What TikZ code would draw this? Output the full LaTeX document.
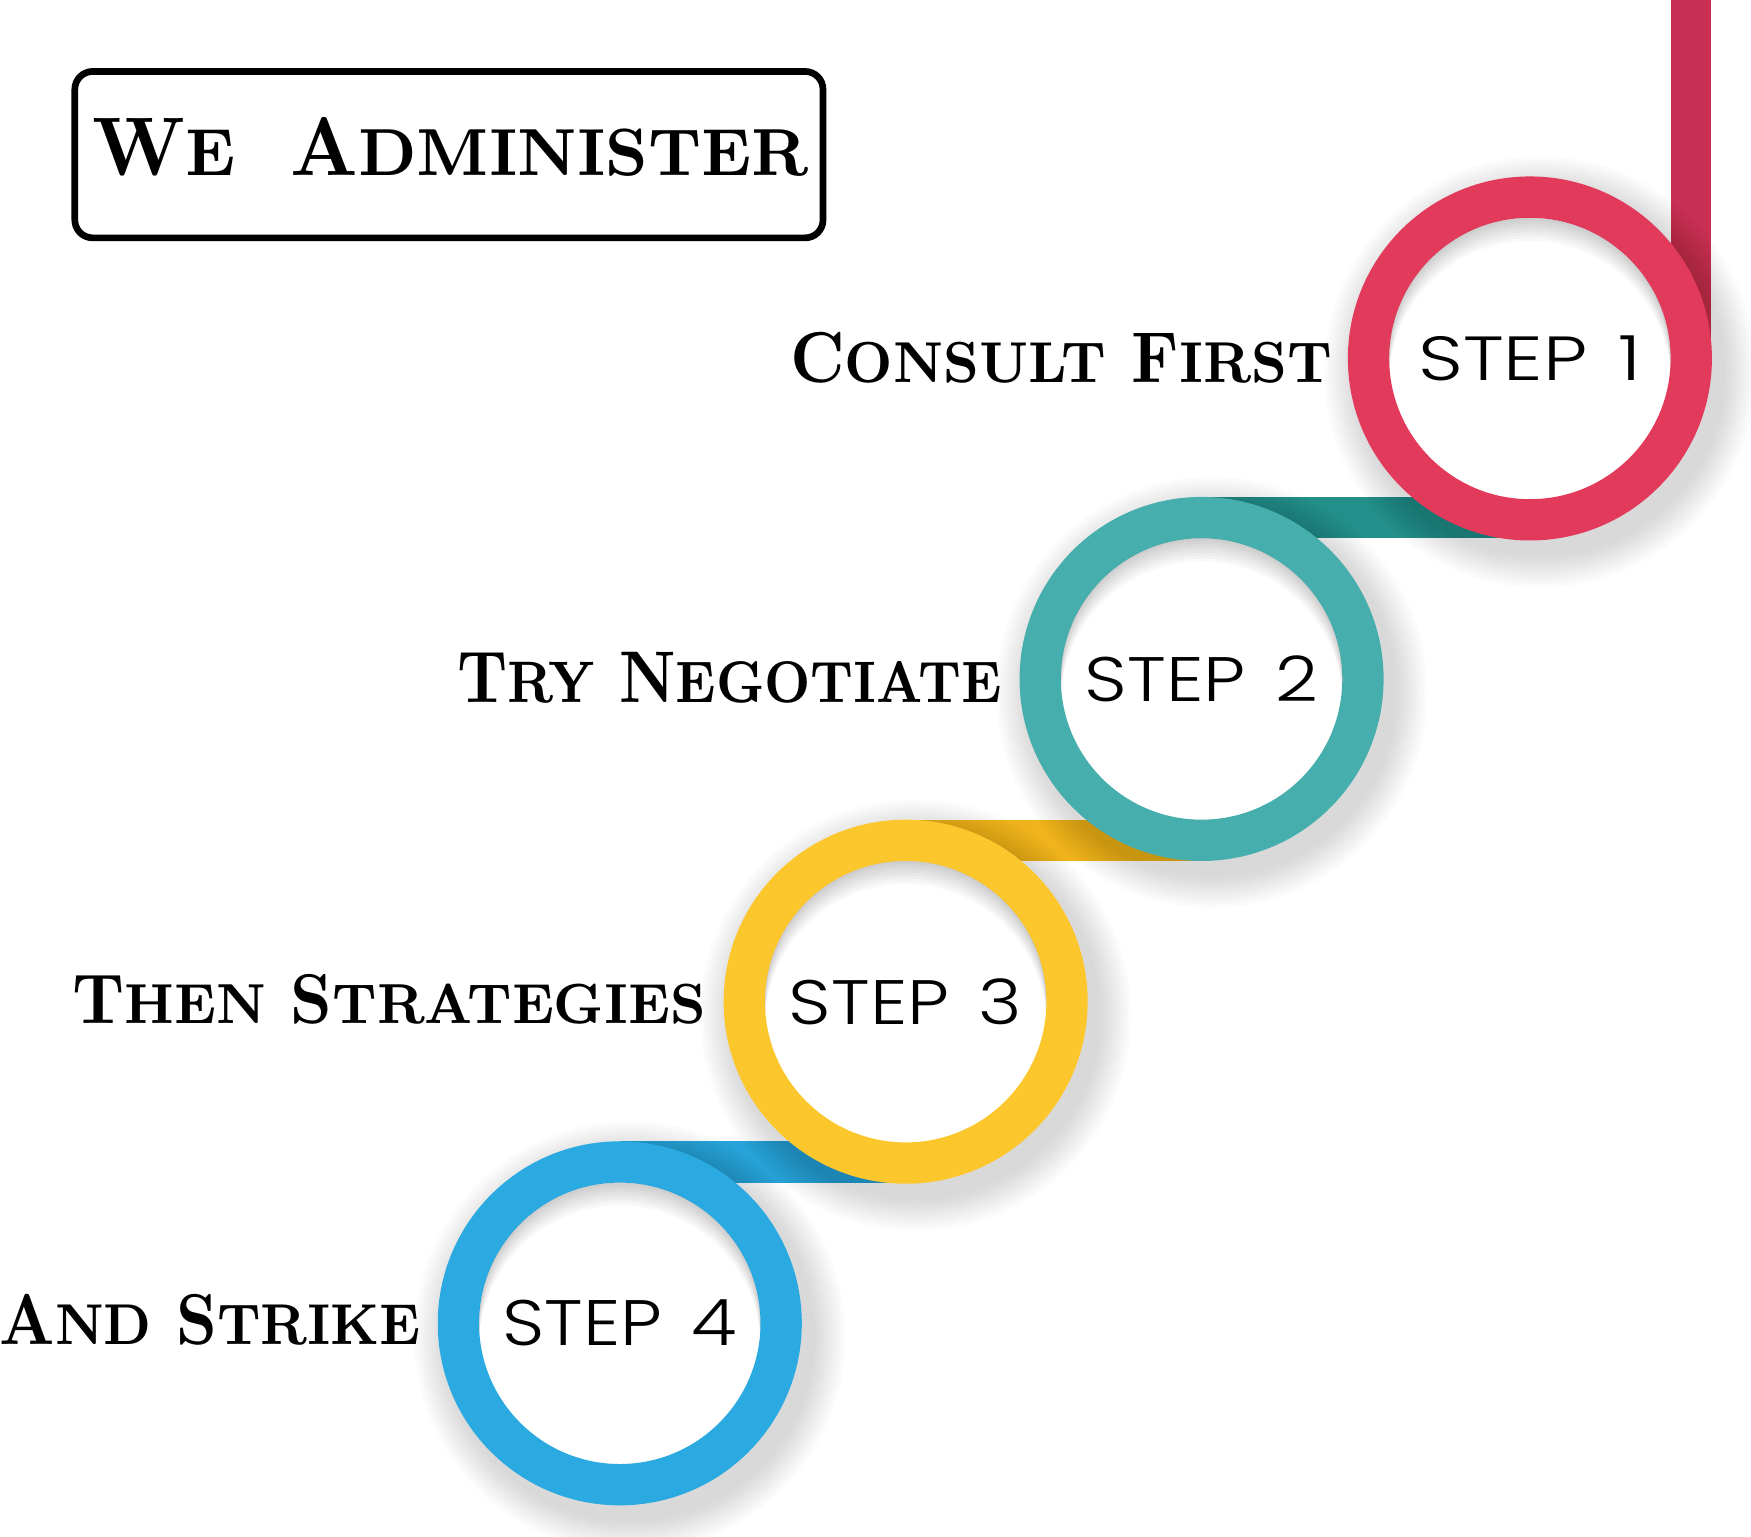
\documentclass[tikz,border=0pt]{standalone}
\usepackage{graphicx}
\usepackage{fontspec}
\setmainfont{Latin Modern Roman}
\newfontfamily\stepfont{Poppins}[UprightFont=* Light]
\usetikzlibrary{backgrounds}
\definecolor{ringred}{HTML}{E23A5A}
\definecolor{barred}{HTML}{C92F52}
\definecolor{ringteal}{HTML}{46AEAD}
\definecolor{bandteal}{HTML}{238F8A}
\definecolor{ringyellow}{HTML}{FCC72D}
\definecolor{bandyellow}{HTML}{F0B31B}
\definecolor{ringblue}{HTML}{2BAAE2}
\definecolor{bandblue}{HTML}{27A3D9}
\newcommand\smc{\fontsize{8}{9.6}\selectfont}
\begin{document}
\begin{tikzpicture}[x=1pt,y=-1pt,
  ring/.style={circle, draw=#1, line width=37pt, fill=white, minimum size=289pt,
    inner sep=0pt, outer sep=0pt, font=\stepfont\fontsize{10}{12}\selectfont},
  band/.style={draw=#1, line width=37pt, line cap=butt},
  lab/.style={anchor=south east, inner sep=0pt, font=\bfseries\fontsize{10}{12}\selectfont}]
\useasboundingbox (0,0) rectangle (1568,1375.5);
% title
\node[draw, line width=6pt, rounded corners=16pt, minimum width=670pt, minimum height=149pt,
  inner sep=0pt, outer sep=0pt] (tbox) at (402,138.5) {};
\node[lab, anchor=south west] (title) at (83,158)
  {\resizebox{641pt}{52pt}{W{\smc E}\hspace{0.7em}A{\smc DMINISTER}}};
% step circles
\node[ring=ringred] (s1) at (1370,321) {\resizebox{200pt}{40pt}{STEP\hspace{0.4em}1}};
\node[ring=ringteal] (s2) at (1076,608) {\resizebox{209pt}{41pt}{STEP\hspace{0.4em}2}};
\node[ring=ringyellow] (s3) at (811,897) {\resizebox{209pt}{41pt}{STEP\hspace{0.4em}3}};
\node[ring=ringblue] (s4) at (555,1185) {\resizebox{210pt}{41pt}{STEP\hspace{0.4em}4}};
% inner shadows
\foreach \n in {s1,s2,s3,s4} {
  \begin{scope}
    \clip (\n.center) circle (126pt);
    \foreach \k in {1,...,8} {
      \fill[black, opacity=0.022, even odd rule] (\n.center) circle (170pt)
        ([yshift=-2.6*\k]\n.center) circle (126pt);
    }
  \end{scope}
}
% labels
\node[lab] (t1) at (1193,343) {\resizebox{485pt}{45pt}{C{\smc ONSULT} F{\smc IRST}}};
\node[lab] (t2) at (897,630) {\resizebox{487pt}{45pt}{T{\smc RY} N{\smc EGOTIATE}}};
\node[lab] (t3) at (632,917) {\resizebox{567pt}{44pt}{T{\smc HEN} S{\smc TRATEGIES}}};
\node[lab] (t4) at (377,1205) {\resizebox{377pt}{45pt}{A{\smc ND} S{\smc TRIKE}}};
% connectors and shadows behind
\begin{scope}[on background layer]
  \coordinate (top) at (1515,0);
  \draw[band=barred, line width=36pt] (s1.east) -- (s1.east |- top);
  \draw[band=bandteal] (s2.north) -- (s2.north -| s1.south);
  \draw[band=bandyellow] (s3.north) -- (s3.north -| s2.south);
  \draw[band=bandblue] (s4.north) -- (s4.north -| s3.south);
  \foreach \n in {s1,s2,s3,s4} {
    \foreach \k in {1,...,10} {
      \pgfmathsetmacro\rr{163+3*\k}
      \fill[black, opacity=0.014] ([xshift=9pt,yshift=-12pt]\n.center) circle (\rr pt);
    }
  }
\end{scope}
\end{tikzpicture}
\end{document}
